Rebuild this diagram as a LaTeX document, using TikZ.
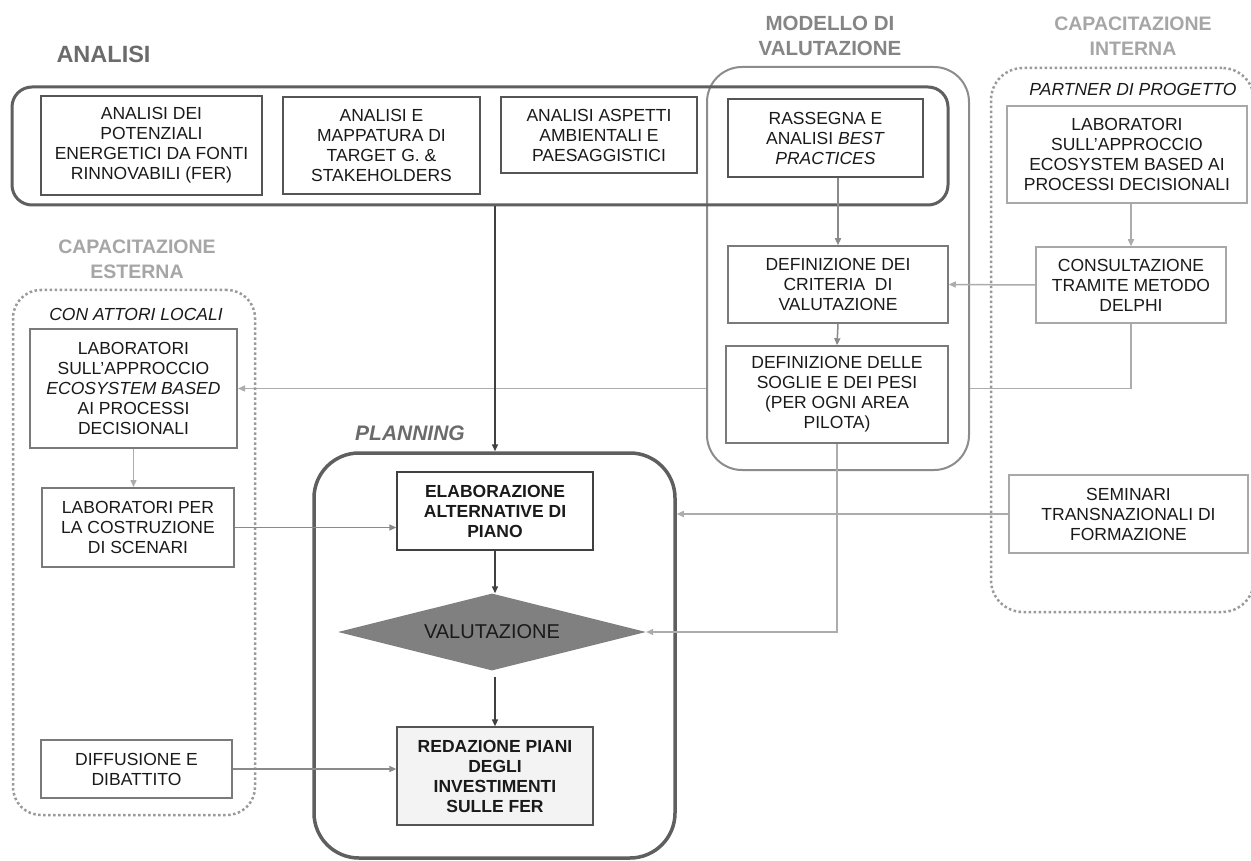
\documentclass[tikz,border=0pt]{standalone}
\usepackage{fontspec}
\setmainfont{Liberation Sans}
\usetikzlibrary{arrows.meta,shapes.geometric}
\pgfdeclarelayer{back}
\pgfdeclarelayer{bg}
\pgfsetlayers{back,bg,main}
\definecolor{txt}{HTML}{1A1A1A}
\definecolor{hdA}{HTML}{6B6B6B}
\definecolor{hdB}{HTML}{858585}
\definecolor{hdC}{HTML}{A6A6A6}
\definecolor{cDark}{HTML}{555555}
\definecolor{cCont}{HTML}{5F5F5F}
\definecolor{cMid}{HTML}{7A7A7A}
\definecolor{cMod}{HTML}{8C8C8C}
\definecolor{cLight}{HTML}{A8A8A8}
\definecolor{cDot}{HTML}{9A9A9A}
\definecolor{cArrD}{HTML}{404040}
\definecolor{cArrM}{HTML}{8A8A8A}
\definecolor{cArrL}{HTML}{ACACAC}
\definecolor{cDiam}{HTML}{808080}
\definecolor{cRed}{HTML}{F3F3F3}
\begin{document}
\begin{tikzpicture}[x=1pt,y=-1pt,
  box/.style={draw, line width=1.5pt, align=center, inner sep=2pt, fill=white,
    text=txt, font=\fontsize{17.5}{20}\selectfont},
  boxA/.style={box, draw=cDark},
  boxM/.style={box, draw=cMid},
  boxL/.style={box, draw=cLight},
  boxE/.style={box, draw=cMid, line width=2pt},
  boxP/.style={box, draw=cArrD, line width=1.3pt, font=\fontsize{17.5}{20}\selectfont\bfseries},
  cont/.style={draw, rectangle, inner sep=0pt},
  dotcont/.style={draw=cDot, line width=2.5pt, dash pattern=on 2.5pt off 2.5pt, rounded corners=28pt, rectangle, inner sep=0pt},
  hdr/.style={align=center, font=\fontsize{20}{25}\selectfont\bfseries},
  sub/.style={text=txt, font=\fontsize{17.5}{20}\selectfont\itshape},
  arr/.style={line width=1.5pt, -{Triangle[length=7pt,width=6pt]}},
  arrD/.style={arr, draw=cArrD},
  arrM/.style={arr, draw=cArrM},
  arrL/.style={arr, draw=cArrL}
]
\begin{pgfonlayer}{back}
\fill[white] (0,0) rectangle (1251,861);
\end{pgfonlayer}
\useasboundingbox (0,0) rectangle (1251,861);

% headers
\node[anchor=west, font=\fontsize{23.5}{28}\selectfont\bfseries, text=hdA] (hAn) at (53,54) {ANALISI};
\node[hdr, text=hdB, font=\fontsize{20.5}{25}\selectfont\bfseries] (hMod) at (830,36) {MODELLO DI\\VALUTAZIONE};
\node[hdr, text=hdC, font=\fontsize{19.5}{25}\selectfont\bfseries] (hInt) at (1133,36) {CAPACITAZIONE\\INTERNA};
\node[hdr, text=hdC, font=\fontsize{19.5}{25}\selectfont\bfseries] (hEst) at (137,259) {CAPACITAZIONE\\ESTERNA};
\node[text=hdA, font=\fontsize{21}{24}\selectfont\bfseries\itshape] (hPlan) at (410,433) {PLANNING};

% containers
\node[cont, draw=cMod, line width=2pt, fill=white, rounded corners=35pt, minimum width=262pt, minimum height=403pt] (mod) at (838,268.5) {};
\node[cont, draw=cCont, line width=3pt, rounded corners=20pt, minimum width=936pt, minimum height=118pt] (ana) at (480,146) {};
\node[cont, draw=cCont, line width=3.5pt, rounded corners=45pt, minimum width=361pt, minimum height=405pt] (plan) at (494.5,655.5) {};
\node[dotcont, minimum width=242pt, minimum height=525pt] (ext) at (134,552.5) {};
\begin{scope}
\clip (0,0) rectangle (1251,861);
\node[dotcont, rounded corners=32pt, minimum width=263pt, minimum height=544pt] (int) at (1122.5,340) {};
\end{scope}

\node[sub] (tInt) at (1133,89) {PARTNER DI PROGETTO};
\node[sub] (tEst) at (136,314) {CON ATTORI LOCALI};

% analisi boxes
\node[boxA, minimum width=221pt, minimum height=99pt] (a1) at (151.5,145.5) {ANALISI DEI\\POTENZIALI\\ENERGETICI DA FONTI\\RINNOVABILI (FER)};
\node[boxA, minimum width=197pt, minimum height=97pt] (a2) at (381.5,145.5) {ANALISI E\\MAPPATURA DI\\TARGET G. \&\\STAKEHOLDERS};
\node[boxA, minimum width=196pt, minimum height=76pt] (a3) at (599,135) {ANALISI ASPETTI\\AMBIENTALI E\\PAESAGGISTICI};
\node[boxA, minimum width=195pt, minimum height=78pt] (a4) at (825.5,138) {RASSEGNA E\\ANALISI \textit{BEST}\\\textit{PRACTICES}};

% modello boxes
\node[boxM, minimum width=220pt, minimum height=77pt] (crit) at (838,284.5) {DEFINIZIONE DEI\\CRITERIA\ \ DI\\VALUTAZIONE};
\node[boxM, minimum width=222pt, minimum height=97pt] (sog) at (837,394.5) {DEFINIZIONE DELLE\\SOGLIE E DEI PESI\\(PER OGNI AREA\\PILOTA)};

% interna boxes
\node[boxL, minimum width=240pt, minimum height=97pt] (rlab) at (1127,154.5) {LABORATORI\\SULL'APPROCCIO\\ECOSYSTEM BASED AI\\PROCESSI DECISIONALI};
\node[boxL, minimum width=190pt, minimum height=76pt] (cons) at (1131,285) {CONSULTAZIONE\\TRAMITE METODO\\DELPHI};
\node[boxL, minimum width=239pt, minimum height=78pt] (sem) at (1128.5,514) {SEMINARI\\TRANSNAZIONALI DI\\FORMAZIONE};

% esterna boxes
\node[boxE, minimum width=207pt, minimum height=119pt] (llab) at (133.5,388.5) {LABORATORI\\SULL'APPROCCIO\\\textit{ECOSYSTEM BASED}\\AI PROCESSI\\DECISIONALI};
\node[boxE, minimum width=192pt, minimum height=79pt] (scen) at (138,527.5) {LABORATORI PER\\LA COSTRUZIONE\\DI SCENARI};
\node[boxE, minimum width=191pt, minimum height=58pt] (diff) at (136.5,769) {DIFFUSIONE E\\DIBATTITO};

% planning
\node[boxP, minimum width=196pt, minimum height=78pt] (elab) at (495,511) {ELABORAZIONE\\ALTERNATIVE DI\\PIANO};
\node[shape=diamond, fill=cDiam, draw=none, inner sep=0pt, aspect=4, minimum width=308pt, minimum height=77pt, text=txt, font=\fontsize{20}{24}\selectfont] (val) at (492,632) {VALUTAZIONE};
\node[boxP, draw=cDark, fill=cRed, minimum width=196pt, minimum height=98pt] (red) at (495,776) {REDAZIONE PIANI\\DEGLI\\INVESTIMENTI\\SULLE FER};

% connectors
\draw[arrD] (ana.south -| elab.north) -- (plan.north -| elab.north);
\draw[arrM] (crit.north |- a4.south) -- (crit.north);
\draw[arrM] (crit.south) -- (sog.north);
\draw[arrL] (rlab.south -| cons.north) -- (cons.north);
\draw[arrL] (cons.west) -- (crit.east);
\begin{pgfonlayer}{bg}
\draw[arrL] (cons.south) |- (llab.east);
\end{pgfonlayer}
\draw[arrL] (llab.south) -- (llab.south |- scen.north);
\draw[arrM] (scen.east) -- (scen.east -| elab.west);
\draw[arrM] (diff.east) -- (diff.east -| red.west);
\draw[arrL] (sem.west) -- (sem.west -| plan.east);
\draw[arrL] (sog.south) |- (val.east);
\draw[arrD] (elab.south) -- (elab.south |- val.north);
\draw[arrD] ([yshift=-6pt]val.south -| red.north) -- (red.north);
\end{tikzpicture}
\end{document}
